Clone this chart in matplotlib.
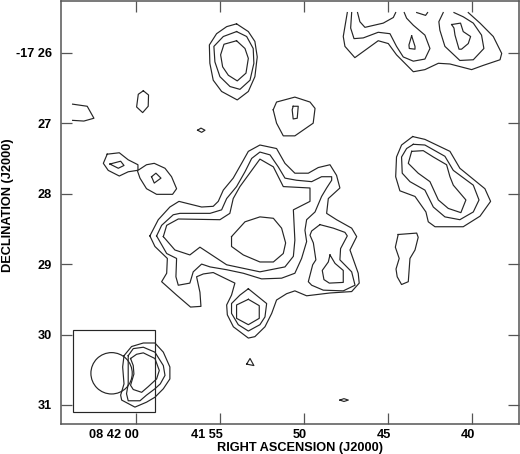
import matplotlib
matplotlib.use('Agg')
import matplotlib.pyplot as plt
from matplotlib.patches import Ellipse, Rectangle
from matplotlib.transforms import ScaledTranslation

# contours: (RA seconds past 08 41, Dec arcmin past -17)
north_blob_outer = [(54.01,25.59),(54.60,25.63),(55.20,25.73),(55.63,25.89),(55.60,26.15),(55.40,26.39),(54.90,26.55),(53.97,26.67),(53.31,26.55),(52.92,26.34),(52.78,26.06),(52.92,25.84),(53.31,25.70)]
north_blob_mid = [(54.01,25.70),(54.80,25.77),(55.36,25.91),(55.30,26.13),(55.00,26.34),(54.40,26.48),(53.81,26.52),(53.21,26.39),(52.98,26.15),(53.02,25.94),(53.41,25.77)]
north_blob_in = [(54.01,25.83),(54.76,25.88),(54.96,26.03),(54.84,26.20),(54.50,26.32),(53.97,26.40),(53.45,26.29),(53.31,26.08),(53.51,25.94)]
small_a = [(59.56,26.54),(59.86,26.59),(59.96,26.77),(59.60,26.85),(59.27,26.76),(59.25,26.60)]
small_b = [(56.33,27.10),(56.13,27.07),(55.89,27.10),(56.09,27.13)]
small_c = [(47.86,30.93),(47.62,30.91),(47.36,30.93),(47.62,30.95)]
small_d = [(53.41,30.42),(53.21,30.34),(52.98,30.44)]
west_pair = [(61.71,27.44),(60.99,27.42),(60.46,27.52),(59.88,27.59),(59.88,27.67),(59.37,27.59),(58.91,27.57),(58.27,27.64),(57.88,27.76),(57.58,27.93),(57.82,28.01),(58.77,28.01),(59.37,27.93),(59.76,27.78),(59.92,27.67),(60.46,27.69),(60.99,27.75),(61.65,27.67),(61.94,27.57)]
west_pair_in1 = [(61.55,27.58),(60.91,27.54),(60.71,27.60),(61.05,27.64)]
west_pair_in2 = [(59.07,27.76),(58.81,27.71),(58.51,27.78),(58.91,27.85)]
center_blob_outer = [(51.83,26.81),(51.63,26.70),(50.54,26.63),(49.64,26.70),(49.34,26.79),(49.45,27.00),(50.54,27.18),(51.23,27.18),(51.63,27.00)]
center_blob_in = [(50.64,26.76),(50.34,26.76),(50.40,26.93),(50.64,26.94),(50.70,26.81)]

main_outer = [(59.17,28.60),(58.67,28.37),(57.98,28.19),(57.44,28.11),(56.09,28.19),(55.40,28.18),(55.10,28.11),(54.80,27.95),(54.21,27.78),(53.71,27.57),(53.31,27.40),(52.62,27.31),(51.63,27.36),(51.13,27.57),(50.54,27.71),(49.74,27.71),(49.15,27.63),(48.45,27.59),(48.06,27.74),(47.86,27.92),(48.55,28.07),(48.65,28.28),(48.06,28.37),(47.16,28.49),(46.86,28.61),(47.26,28.80),(46.77,29.13),(46.71,29.27),(47.16,29.39),(48.45,29.41),(49.84,29.45),(50.54,29.38),(51.03,29.42),(51.63,29.51),(51.92,29.70),(52.32,29.89),(52.92,30.03),(53.31,30.05),(54.20,29.89),(54.56,29.72),(54.60,29.58),(54.31,29.44),(54.11,29.27),(54.80,29.19),(55.40,29.12),(55.99,29.14),(56.39,29.18),(56.19,29.40),(56.13,29.60),(56.75,29.61),(57.58,29.44),(58.47,29.25),(58.17,29.13),(58.13,28.92),(58.87,28.75)]
main_mid = [(58.77,28.60),(58.47,28.45),(57.78,28.30),(57.38,28.28),(55.59,28.28),(54.90,28.23),(54.60,28.07),(54.01,27.90),(53.51,27.69),(53.11,27.50),(52.62,27.41),(52.02,27.45),(51.53,27.62),(51.13,27.78),(50.44,27.81),(49.54,27.83),(48.95,27.76),(48.35,27.76),(48.35,27.81),(48.65,27.92),(48.95,28.04),(49.34,28.26),(49.84,28.37),(49.94,28.52),(49.84,28.68),(50.14,28.92),(50.54,29.13),(51.33,29.20),(52.52,29.21),(53.61,29.13),(54.60,29.08),(55.59,29.04),(56.09,29.00),(56.59,29.11),(56.79,29.27),(57.48,29.30),(57.62,29.18),(57.58,28.92),(58.17,28.85)]
main_in = [(58.37,28.61),(58.17,28.45),(57.48,28.36),(55.00,28.37),(54.41,28.28),(54.21,28.07),(53.81,27.90),(52.62,27.51),(51.82,27.62),(51.23,27.90),(49.64,27.92),(49.64,28.11),(50.63,28.23),(50.54,28.66),(50.63,28.89),(51.13,29.04),(52.62,29.11),(54.60,29.01),(56.19,28.76),(56.79,28.87),(57.68,28.80)]
main_core = [(54.31,28.61),(53.51,28.40),(52.62,28.33),(51.82,28.35),(51.33,28.49),(51.09,28.70),(51.23,28.85),(51.82,28.97),(52.62,28.97),(53.61,28.87),(54.31,28.75)]
hex_mid = [(53.31,29.35),(52.22,29.56),(52.32,29.75),(52.62,29.86),(53.31,29.95),(53.91,29.86),(54.31,29.70),(54.31,29.56),(53.81,29.44)]
hex_in = [(53.31,29.50),(52.66,29.59),(52.66,29.77),(53.31,29.86),(54.01,29.77),(54.01,29.58)]
lobe_mid = [(49.05,28.44),(48.25,28.49),(47.56,28.55),(47.42,28.60),(47.82,28.78),(47.86,28.94),(47.16,29.11),(46.96,29.30),(47.66,29.38),(48.85,29.37),(49.54,29.30),(49.74,29.25),(49.48,29.01),(49.29,28.94),(49.44,28.70),(49.64,28.59),(49.54,28.53)]
lobe_in = [(48.45,28.87),(48.15,28.99),(47.66,29.09),(47.66,29.26),(48.49,29.27),(48.81,29.22),(48.91,29.09),(48.55,28.97)]
strip = [(44.39,28.58),(43.29,28.56),(43.20,28.62),(43.39,28.80),(43.69,28.92),(43.79,29.25),(44.19,29.29),(44.45,29.18),(44.52,29.07),(44.33,28.92),(44.56,28.76)]
east_outer = [(43.53,27.19),(42.80,27.23),(42.10,27.31),(41.31,27.40),(40.72,27.64),(39.23,27.93),(38.89,28.11),(39.52,28.32),(40.52,28.47),(42.20,28.47),(42.60,28.40),(42.74,28.26),(43.39,28.04),(44.29,27.96),(44.54,27.76),(44.49,27.48),(44.19,27.31)]
east_mid = [(43.49,27.30),(42.80,27.31),(41.61,27.47),(41.11,27.67),(39.92,27.88),(39.58,28.09),(39.92,28.26),(40.72,28.37),(41.61,28.33),(42.30,28.19),(42.80,27.95),(43.69,27.83),(44.15,27.71),(44.19,27.48),(43.89,27.36)]
east_in = [(43.59,27.40),(42.90,27.39),(42.30,27.48),(41.51,27.59),(41.31,27.76),(41.11,27.88),(40.36,28.09),(40.66,28.27),(41.41,28.21),(42.00,28.09),(42.50,27.83),(43.20,27.71),(43.79,27.57)]
ne_spike = [(43.59,25.76),(43.39,25.91),(43.39,25.95),(43.73,25.94),(43.75,25.89)]
ne_oval_in = [(41.21,25.60),(40.68,25.58),(40.52,25.70),(40.08,25.77),(40.22,25.87),(40.62,25.95),(40.77,25.95),(41.01,25.75),(41.07,25.65)]
beam_outer = [(60.71,30.30),(60.26,30.17),(59.56,30.12),(58.87,30.12),(58.37,30.25),(57.98,30.46),(57.98,30.63),(58.37,30.77),(58.87,30.89),(59.37,30.96),(60.06,31.03),(60.85,30.93),(60.91,30.86),(60.71,30.70),(60.79,30.46)]
beam_mid = [(60.46,30.30),(60.16,30.20),(59.56,30.18),(58.87,30.25),(58.37,30.44),(58.27,30.58),(58.55,30.70),(58.87,30.77),(59.37,30.86),(59.76,30.94),(60.46,30.94),(60.56,30.84),(60.46,30.70),(60.46,30.46)]
beam_in = [(60.32,30.34),(59.96,30.28),(59.56,30.26),(58.87,30.34),(58.61,30.51),(58.77,30.63),(59.27,30.74),(59.66,30.82),(60.16,30.78),(60.32,30.72),(60.12,30.56),(60.16,30.44)]

# these run off the top or the left of the mapped area so they stay open
west_arc = [(63.77,26.73),(62.90,26.76),(62.50,26.93),(63.10,26.97),(63.77,26.96)]
ne_outer = [(47.42,25.43),(47.66,25.77),(47.56,25.91),(46.97,26.07),(45.58,25.83),(44.98,25.87),(44.49,26.03),(43.49,26.27),(42.80,26.24),(42.00,26.15),(41.31,26.16),(40.02,26.24),(39.33,26.18),(38.33,26.10),(38.23,26.01),(38.73,25.77),(39.52,25.58),(40.22,25.43)]
ne_second = [(47.16,25.43),(47.22,25.65),(47.02,25.80),(46.47,25.79),(45.58,25.71),(44.88,25.73),(44.49,25.91),(44.09,26.06),(43.49,26.12),(42.80,26.09),(42.50,25.94),(42.80,25.75),(43.49,25.61),(43.89,25.51),(44.03,25.43)]
ne_arc = [(46.81,25.43),(46.67,25.56),(46.37,25.64),(45.28,25.58),(44.68,25.50),(44.54,25.43)]
ne_tip = [(43.29,25.43),(42.76,25.47),(42.64,25.43)]
ne_oval = [(41.71,25.43),(41.97,25.56),(41.91,25.68),(41.61,25.91),(40.72,26.11),(39.92,26.10),(39.29,25.94),(39.43,25.75),(39.92,25.58),(40.52,25.49),(41.07,25.43)]

closed_contours = [north_blob_outer, north_blob_mid, north_blob_in, small_a, small_b, small_c, small_d,
                   west_pair, west_pair_in1, west_pair_in2, center_blob_outer, center_blob_in,
                   main_outer, main_mid, main_in, main_core, hex_mid, hex_in, lobe_mid, lobe_in, strip,
                   east_outer, east_mid, east_in, ne_spike, ne_oval_in, beam_outer, beam_mid, beam_in]
open_contours = [west_arc, ne_outer, ne_second, ne_arc, ne_tip, ne_oval]

ra_ticks = [60, 55, 50, 45, 40]
ra_labels = ['08 42 00', '41 55', '50', '45', '40']
dec_ticks = [26, 27, 28, 29, 30, 31]
dec_labels = ['-17 26', '27', '28', '29', '30', '31']

plt.rcParams['font.family'] = ['Liberation Sans', 'DejaVu Sans']
plt.rcParams['font.weight'] = 'bold'

fig = plt.figure(figsize=(5.2, 4.54), dpi=100)
ax = fig.add_axes([61/520, 1 - 423.6/454, 458/520, 422.6/454])
ax.set_xlim(64.46, 37.20)
ax.set_ylim(31.264, 25.266)

line_color = '#262626'
for c in closed_contours:
    xs = [p[0] for p in c] + [c[0][0]]
    ys = [p[1] for p in c] + [c[0][1]]
    ax.plot(xs, ys, color=line_color, lw=0.85)
for c in open_contours:
    ax.plot([p[0] for p in c], [p[1] for p in c], color=line_color, lw=0.85)

# beam box in the corner
ax.add_patch(Rectangle((63.77, 29.93), 58.87 - 63.77, 31.10 - 29.93, fill=False, ec=line_color, lw=0.85))
ax.add_patch(Ellipse((61.45, 30.55), 2.46, 0.587, fill=False, ec=line_color, lw=0.85))

ax.set_xticks(ra_ticks)
ax.set_xticklabels(ra_labels, fontsize=9.2)
ax.set_yticks(dec_ticks)
ax.set_yticklabels(dec_labels, fontsize=9.2)
ax.tick_params(direction='in', length=8, width=0.9, color='#555555', top=True, right=True)
ax.tick_params(axis='x', pad=4)
ax.tick_params(axis='y', pad=6.5)
for spine in ax.spines.values():
    spine.set_color('#555555')
    spine.set_linewidth(1.1)

shift = ScaledTranslation(3/100, 0, fig.dpi_scale_trans)
for label in ax.get_xticklabels():
    label.set_ha('right')
    label.set_transform(label.get_transform() + shift)

fig.text(300/520, 1 - 448/454, 'RIGHT ASCENSION (J2000)', ha='center', va='center', fontsize=9.2)
fig.text(8/520, 1 - 205/454, 'DECLINATION (J2000)', ha='center', va='center', rotation=90, fontsize=9.2)

fig.savefig('out.png', dpi=100)
